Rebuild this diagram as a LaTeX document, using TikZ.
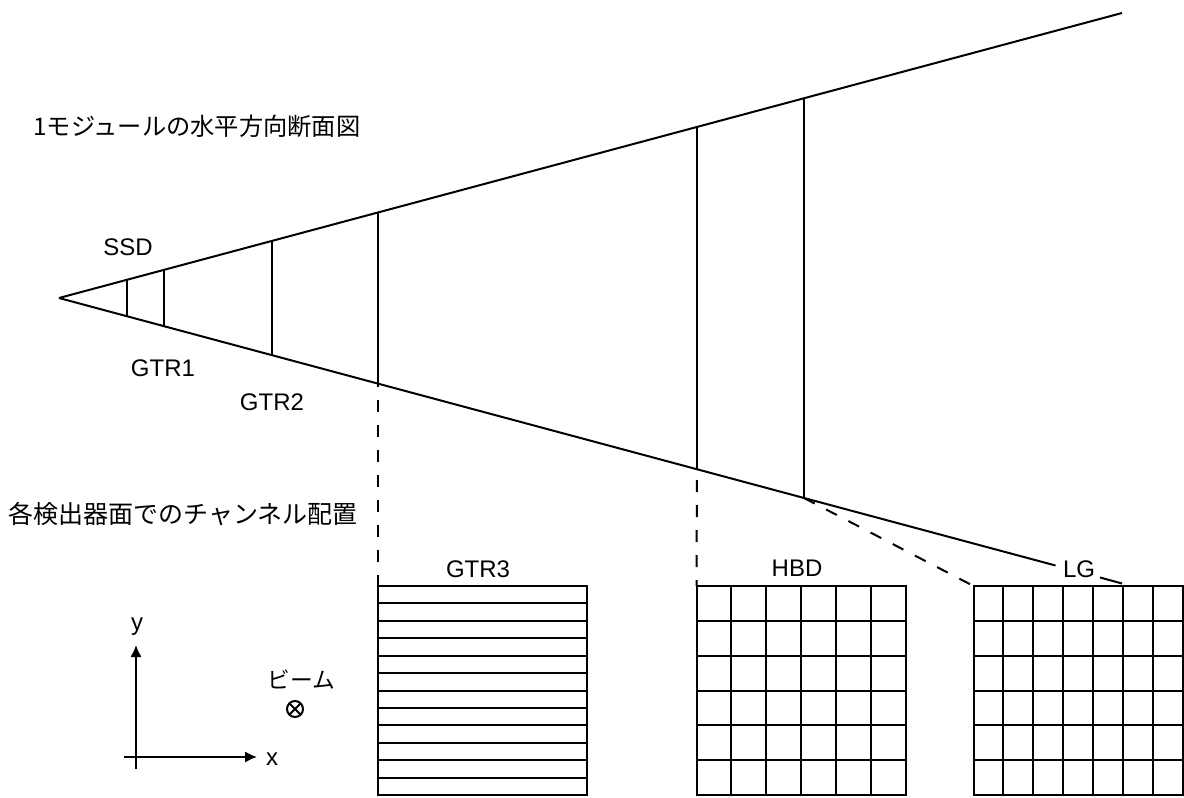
\documentclass[tikz,border=0pt]{standalone}
\usepackage{fontspec}
\usetikzlibrary{arrows.meta,calc}
\setmainfont{Liberation Sans}
\newfontfamily\jpfont{Noto Sans CJK JP}
\tikzset{
  line/.style={draw=black,line width=1.5pt},
  dash line/.style={draw=black,line width=1.5pt,dash pattern=on 9pt off 9.75pt},
  lab/.style={inner sep=0pt,font=\fontsize{18pt}{20pt}\selectfont},
  jp/.style={inner sep=0pt,font=\jpfont\fontsize{18.75pt}{21pt}\selectfont},
  arrow line/.style={line,-{Latex[length=9pt,width=8.5pt]}},
  grid box/.style={line,rectangle,inner sep=0pt,outer sep=0pt,minimum width=156.75pt,minimum height=156.75pt,anchor=north west}
}
\begin{document}
\begin{tikzpicture}[x=0.75pt,y=-0.75pt]
\useasboundingbox (0,0) rectangle (1184,798);
% wedge
\coordinate (apex) at (59,298);
\coordinate (uend) at (1122,13);
\coordinate (u1) at (127,280);
\coordinate (u2) at (164,270);
\coordinate (u3) at (272,241);
\coordinate (u4) at (378,212.5);
\coordinate (u5) at (697,127);
\coordinate (u6) at (804,98);
\coordinate (l1) at (127,316.5);
\coordinate (l2) at (164,326.5);
\coordinate (l3) at (272,355);
\coordinate (l4) at (378,384);
\coordinate (l5) at (697,469);
\coordinate (l6) at (804,498);
\coordinate (lgapa) at (1055.5,565.5);
\coordinate (lgapb) at (1100,577.5);
\coordinate (lend) at (1122,583.5);
\draw[line] (apex) -- (uend);
\draw[line] (apex) -- (lgapa);
\draw[line] (lgapb) -- (lend);
\foreach \i in {1,...,6} \draw[line] (u\i) -- (l\i);
% grids
\node[grid box] (gtr) at (378,586) {};
\node[grid box] (hbd) at (696.5,586) {};
\node[grid box] (lg) at (973.5,586) {};
\foreach \i in {1,...,11} \draw[line] ($(gtr.north west)!\i/12!(gtr.south west)$) -- ($(gtr.north east)!\i/12!(gtr.south east)$);
\foreach \i in {1,...,5} {
  \draw[line] ($(hbd.north west)!\i/6!(hbd.north east)$) -- ($(hbd.south west)!\i/6!(hbd.south east)$);
  \draw[line] ($(hbd.north west)!\i/6!(hbd.south west)$) -- ($(hbd.north east)!\i/6!(hbd.south east)$);
  \draw[line] ($(lg.north west)!\i/6!(lg.south west)$) -- ($(lg.north east)!\i/6!(lg.south east)$);
}
\foreach \i in {1,...,6}
  \draw[line] ($(lg.north west)!\i/7!(lg.north east)$) -- ($(lg.south west)!\i/7!(lg.south east)$);
% dashes
\draw[dash line,dash phase=6.75pt] (l4) -- (gtr.north west);
\draw[dash line,dash phase=10.5pt] (l5) -- (hbd.north west);
\draw[dash line] (l6) -- (lg.north west);
% labels
\node[jp,anchor=west,font=\jpfont\fontsize{18.2pt}{21pt}\selectfont] (title1) at (33,126) {1モジュールの水平方向断面図};
\node[jp,anchor=west] (title2) at (8,514) {各検出器面でのチャンネル配置};
\node[lab] (ssd) at (128,247) {SSD};
\node[lab] (gtr1) at (163,368) {GTR1};
\node[lab] (gtr2) at (272,402) {GTR2};
\node[lab] (gtr3) at (478,569) {GTR3};
\node[lab] (hbdl) at (797,568) {HBD};
\node[lab] (lgl) at (1079,569) {LG};
% axes
\coordinate (xs) at (124,757);
\coordinate (xe) at (257,757);
\coordinate (ys) at (136,769);
\coordinate (ye) at (136,645);
\draw[arrow line] (xs) -- (xe);
\draw[arrow line] (ys) -- (ye);
\node[lab] (xl) at (272,759) {x};
\node[lab] (yl) at (137,627) {y};
% beam
\node[jp,font=\jpfont\fontsize{17pt}{20pt}\selectfont] (beaml) at (301,680) {ビーム};
\node[circle,line,inner sep=0pt,outer sep=0pt,minimum size=12pt] (beam) at (295,709) {};
\draw[line] (beam.45) -- (beam.225);
\draw[line] (beam.135) -- (beam.315);
\end{tikzpicture}
\end{document}
